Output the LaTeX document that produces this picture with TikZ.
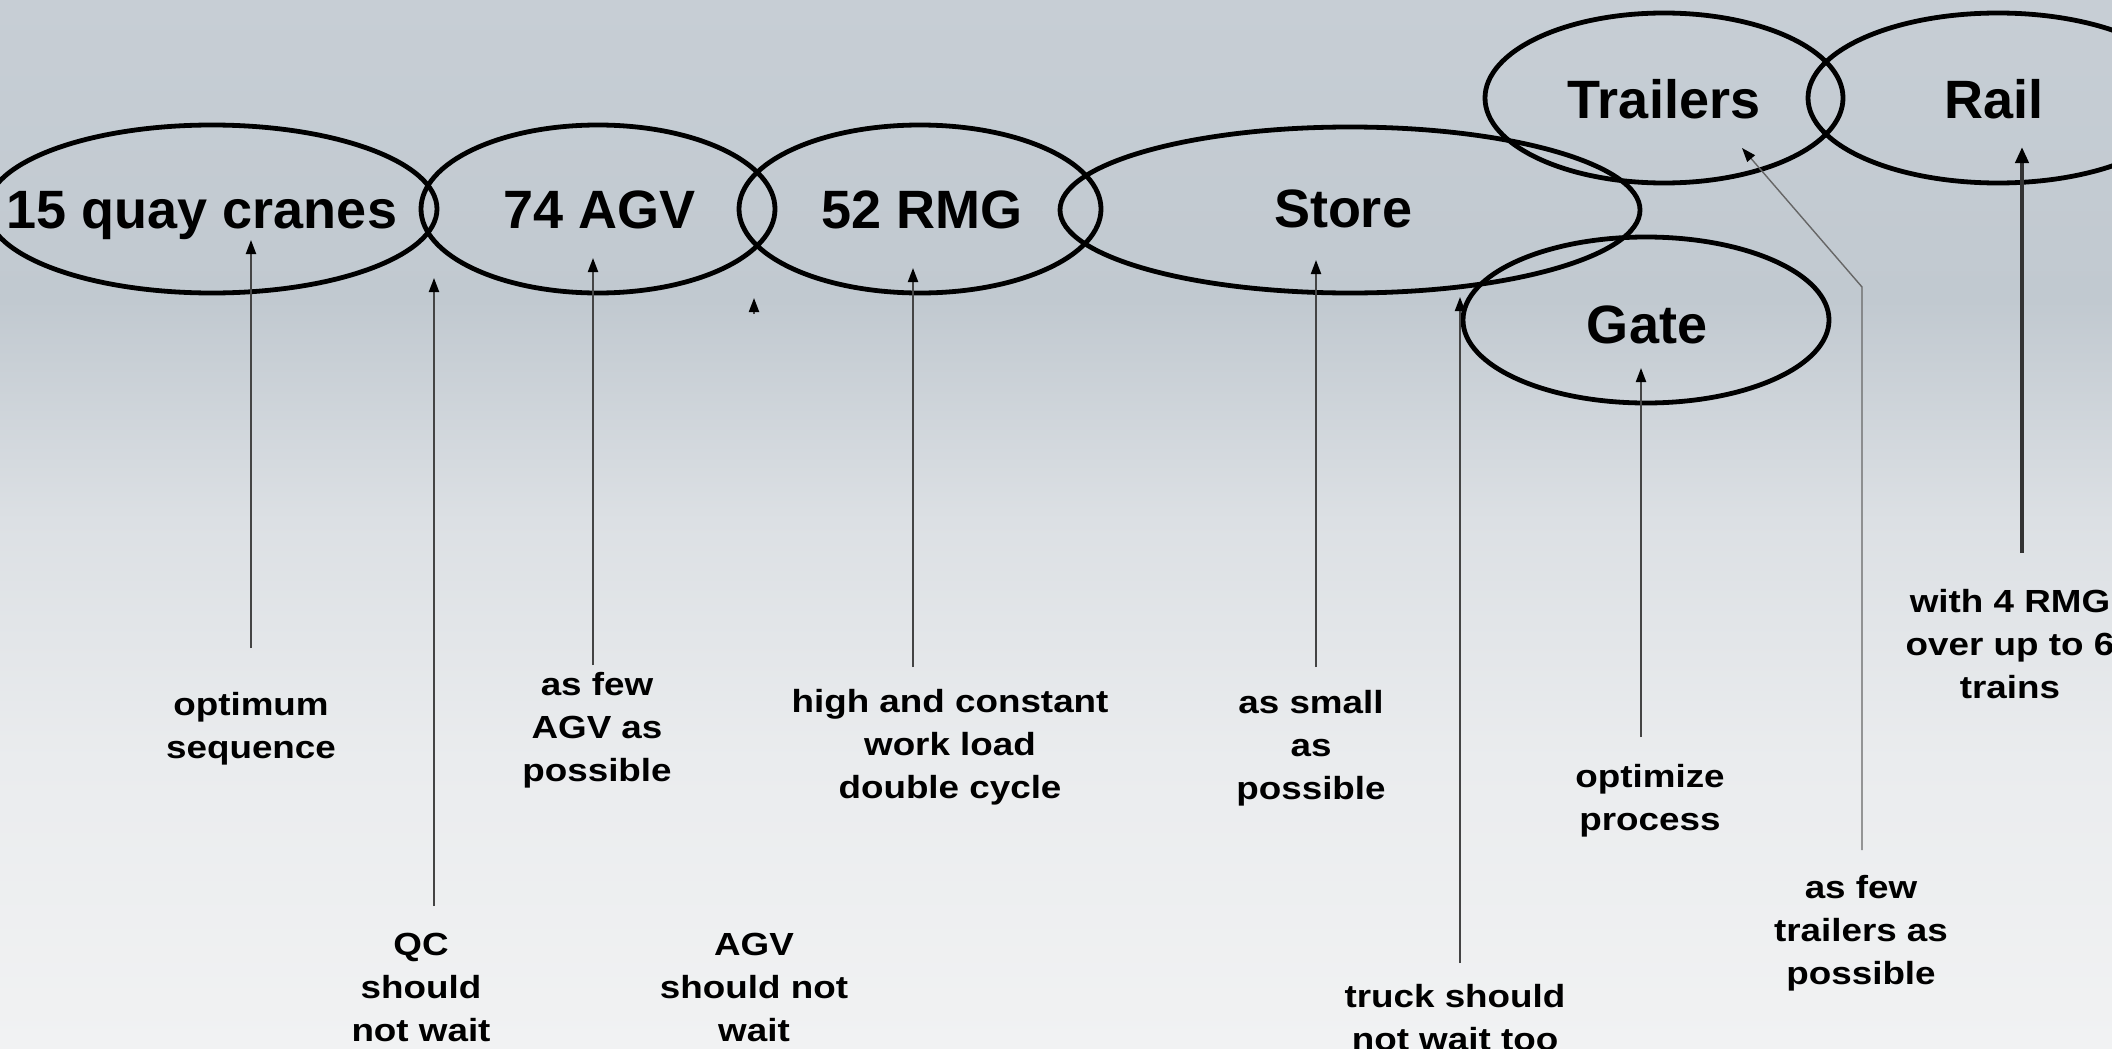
\documentclass[tikz,border=0pt]{standalone}
\usepackage{fontspec}
\setmainfont{Liberation Sans}
\newfontfamily\labfont{Liberation Sans}[FakeStretch=1.15]
\usetikzlibrary{shapes.geometric,arrows.meta}
\definecolor{bgA}{HTML}{C7CED5}
\definecolor{bgB}{HTML}{C1C9D0}
\definecolor{bgC}{HTML}{DCE0E4}
\definecolor{bgD}{HTML}{EAECEE}
\definecolor{bgE}{HTML}{F1F2F3}
\definecolor{linegray}{HTML}{444444}
\begin{document}
\begin{tikzpicture}[x=1pt,y=-1pt,
  ell/.style={ellipse, draw=black, line width=4.8pt, inner sep=0pt, minimum height=168pt},
  big/.style={font=\fontsize{54pt}{60pt}\selectfont\bfseries, inner sep=0pt, anchor=base},
  lab/.style={font=\labfont\bfseries\fontsize{32pt}{43pt}\selectfont, align=center, inner sep=0pt, anchor=north},
  conn/.style={draw=linegray, line width=2pt, -{Triangle[length=14pt,width=10pt,color=black]}},
  thinconn/.style={draw=gray!80!black, line width=1.4pt, -{Triangle[length=14pt,width=10pt,color=black]}},
  thickconn/.style={draw=black!80, line width=4pt, -{Triangle[length=16pt,width=13pt,color=black]}}
]
\useasboundingbox (0,0) rectangle (2112,1049);
% background
\shade[top color=bgA, bottom color=bgB] (0,0) rectangle (2112,300.5);
\shade[top color=bgB, bottom color=bgC] (0,300) rectangle (2112,520.5);
\shade[top color=bgC, bottom color=bgD] (0,520) rectangle (2112,760.5);
\shade[top color=bgD, bottom color=bgE] (0,760) rectangle (2112,1049);

% ellipses
\node[ell, minimum width=450pt] (qc) at (212,209) {};
\node[ell, minimum width=354pt] (agv) at (598,209) {};
\node[ell, minimum width=362pt] (rmg) at (920,209) {};
\node[ell, minimum width=580pt, minimum height=166pt] (store) at (1350,210) {};
\node[ell, minimum width=358pt, minimum height=170pt] (trailers) at (1664,98) {};
\node[ell, minimum width=380pt, minimum height=170pt] (rail) at (1998,98) {};
\node[ell, minimum width=366pt, minimum height=166pt] (gate) at (1646,320) {};

% ellipse texts
\node[big] (qct) at (202,228) {15 quay cranes};
\node[big] (agvt) at (600,228) {74 AGV};
\node[big] (rmgt) at (922,228) {52 RMG};
\node[big] (storet) at (1343,227) {Store};
\node[big] (trailerst) at (1664,118) {Trailers};
\node[big] (railt) at (1994,118) {Rail};
\node[big] (gatet) at (1647,343) {Gate};

% labels
\node[lab] (l1) at (251,691) {\rule{0pt}{24pt}optimum\\sequence};
\node[lab] (l2) at (421,931) {\rule{0pt}{24pt}QC\\should\\not wait};
\node[lab] (l3) at (597,671) {\rule{0pt}{24pt}as few\\AGV as\\possible};
\node[lab] (l4) at (950,688) {\rule{0pt}{24pt}high and constant\\work load\\double cycle};
\node[lab] (l5) at (754,931) {\rule{0pt}{24pt}AGV\\should not\\wait};
\node[lab] (l6) at (1311,689) {\rule{0pt}{24pt}as small\\as\\possible};
\node[lab] (l7) at (1455,983) {\rule{0pt}{24pt}truck should\\not wait too};
\node[lab] (l8) at (1650,763) {\rule{0pt}{24pt}optimize\\process};
\node[lab] (l9) at (1861,874) {\rule{0pt}{24pt}as few\\trailers as\\possible};
\node[lab] (l10) at (2010,588) {\rule{0pt}{24pt}with 4 RMG\\over up to 6\\trains};

% connector end points
\coordinate (s1) at (251,648);  \coordinate (e1) at (251,240);
\coordinate (s2) at (434,906);  \coordinate (e2) at (434,278);
\coordinate (s3) at (593,665);  \coordinate (e3) at (593,258);
\coordinate (s4) at (754,314);  \coordinate (e4) at (754,298);
\coordinate (s5) at (913,667);  \coordinate (e5) at (913,268);
\coordinate (s6) at (1316,667); \coordinate (e6) at (1316,260);
\coordinate (s7) at (1460,963); \coordinate (e7) at (1460,297);
\coordinate (s8) at (1641,737); \coordinate (e8) at (1641,368);
\coordinate (s9) at (1862,850); \coordinate (k9) at (1862,287); \coordinate (e9) at (1742,148);
\coordinate (s10) at (2022,553); \coordinate (e10) at (2022,147);

\draw[conn] (s1) -- (e1);
\draw[conn] (s2) -- (e2);
\draw[conn] (s3) -- (e3);
\draw[conn] (s4) -- (e4);
\draw[conn] (s5) -- (e5);
\draw[conn] (s6) -- (e6);
\draw[conn] (s7) -- (e7);
\draw[conn] (s8) -- (e8);
\draw[thinconn] (s9) -- (k9) -- (e9);
\draw[thickconn] (s10) -- (e10);
\end{tikzpicture}
\end{document}
